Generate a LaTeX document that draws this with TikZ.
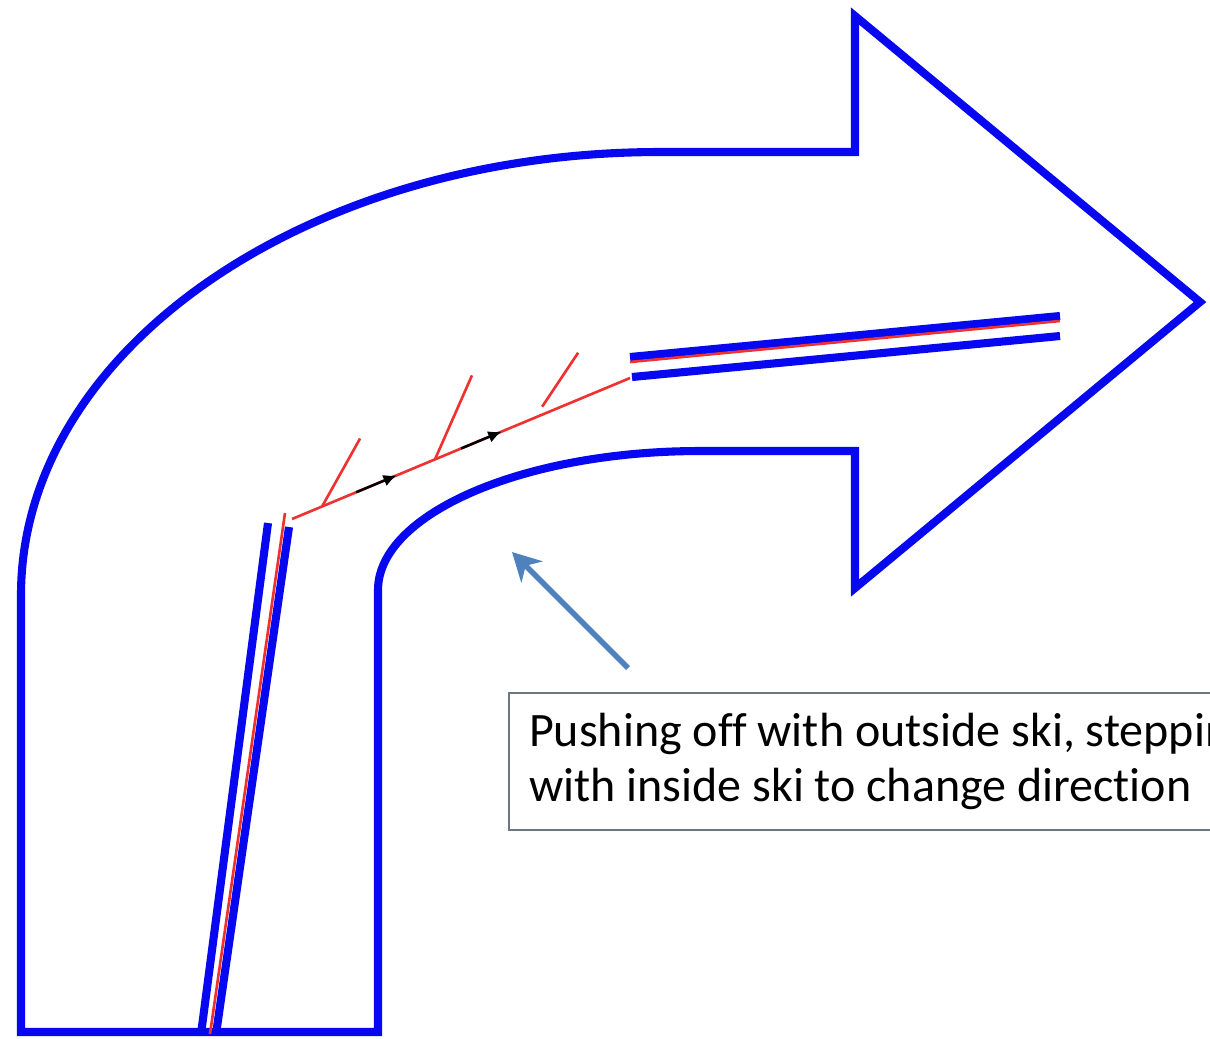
\documentclass[tikz,border=0pt]{standalone}
\usepackage{fontspec}
\setmainfont{Carlito}[Ligatures=NoCommon]
\usetikzlibrary{arrows.meta,calc}
\definecolor{trackblue}{RGB}{8,8,240}
\definecolor{skired}{RGB}{238,50,50}
\definecolor{calloutblue}{RGB}{79,129,189}
\definecolor{boxgray}{RGB}{110,118,128}
\begin{document}
\begin{tikzpicture}[x=0.01cm,y=-0.01cm,
  outline/.style={draw=trackblue,line width=2.3pt,line join=miter},
  skiline/.style={draw=trackblue,line width=2.3pt},
  trail/.style={draw=skired,line width=0.75pt},
  push/.style={draw=black,line width=0.7pt,-{Latex[length=3.8pt,width=3.4pt]}},
  callout/.style={draw=calloutblue,line width=1.6pt,-{Stealth[length=8pt,width=8.5pt,inset=2.5pt]}},
  notebox/.style={draw=boxgray,line width=0.6pt,fill=white,anchor=north west,
    minimum height=1.37cm,inner xsep=0.2cm,align=left,
    font=\fontsize{13.65}{15.8}\selectfont}]
  \useasboundingbox (0,0) rectangle (1210,1038);
  \clip (0,0) rectangle (1210,1038);
  % turn arrow
  \draw[outline] (21,1032) -- (21,595)
    .. controls (21,350) and (307,152) .. (660,152)
    -- (855,152) -- (855,16) -- (1200,302) -- (855,588) -- (855,451) -- (700,451)
    .. controls (523,451) and (378,514) .. (378,590)
    -- (378,1032) -- cycle;
  % skis before the step
  \draw[skiline] (201,1034) -- (268,523);
  \draw[skiline] (216,1034) -- (289,527);
  \draw[trail] (210,1034) -- (285,513);
  % skis after the step
  \draw[skiline] (630,357) -- (1060,316);
  \draw[skiline] (632,377) -- (1060,336);
  \draw[trail] (630,362) -- (1060,321);
  % stepping track
  \coordinate (s0) at (292,519);
  \coordinate (s1) at (630,378);
  \draw[trail] (s0) -- (s1);
  \draw[trail] ($(s0)!0.089!(s1)$) -- ++(38,-68);
  \draw[trail] ($(s0)!0.423!(s1)$) -- ++(37,-84);
  \draw[trail] ($(s0)!0.74!(s1)$) ++(0,-8) -- ++(36,-54);
  \draw[push] ($(s0)!0.19!(s1)$) -- ($(s0)!0.31!(s1)$);
  \draw[push] ($(s0)!0.50!(s1)$) -- ($(s0)!0.62!(s1)$);
  % note
  \node[notebox] (note) at (508,692) {Pushing off with outside ski, stepping\\with inside ski to change direction};
  \coordinate (tail) at (628,668);
  \coordinate (aim) at (512,552);
  \draw[callout] (tail) -- (aim);
\end{tikzpicture}
\end{document}
